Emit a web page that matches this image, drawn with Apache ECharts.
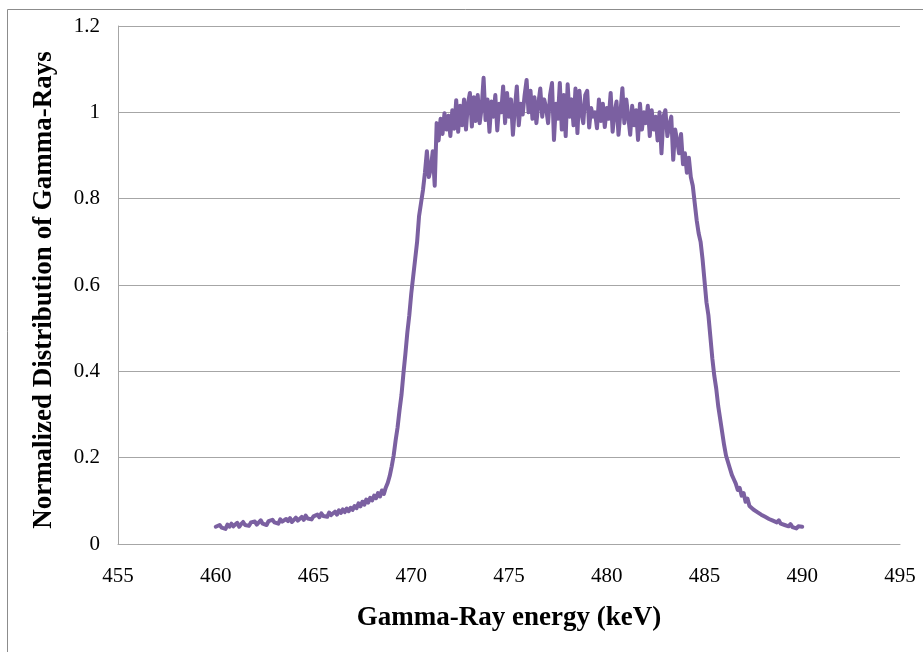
<!DOCTYPE html>
<html>
<head>
<meta charset="utf-8">
<title>Gamma-Ray energy distribution</title>
<script src="https://cdn.jsdelivr.net/npm/echarts@6/dist/echarts.min.js"></script>
<style>
  html, body { margin: 0; padding: 0; background: #ffffff; }
  #chart { width: 923px; height: 652px; }
</style>
</head>
<body>
<div id="chart"></div>
<script>
// Energy grid of the spectrum (keV): 460.0 .. 490.0 in 0.1 keV bins
const energyStart = 460.0;
const energyStep = 0.1;

// Normalized counts, one per 0.1 keV bin, rows of 1 keV
const normalizedCounts = [
  0.040,0.036,0.044,0.038,0.042,0.035,0.045,0.040,0.047,0.041,
  0.043,0.049,0.040,0.046,0.051,0.044,0.048,0.042,0.050,0.046,
  0.052,0.045,0.049,0.055,0.047,0.051,0.044,0.053,0.049,0.056,
  0.050,0.054,0.047,0.057,0.052,0.049,0.058,0.053,0.060,0.051,
  0.055,0.061,0.054,0.058,0.063,0.056,0.066,0.059,0.062,0.057,
  0.064,0.060,0.068,0.062,0.071,0.065,0.069,0.063,0.073,0.067,
  0.070,0.075,0.068,0.078,0.072,0.080,0.074,0.082,0.076,0.084,
  0.079,0.088,0.083,0.094,0.087,0.098,0.091,0.103,0.096,0.107,
  0.101,0.112,0.106,0.118,0.110,0.124,0.116,0.131,0.142,0.158,
  0.180,0.205,0.240,0.270,0.310,0.345,0.395,0.440,0.490,0.530,
  0.580,0.620,0.660,0.700,0.760,0.790,0.820,0.860,0.910,0.850,
  0.870,0.910,0.830,0.975,0.935,0.985,0.950,0.998,0.960,0.992,
  0.945,1.005,0.962,1.028,0.955,1.015,0.970,1.030,0.960,1.020,
  1.045,0.967,1.035,0.980,1.040,0.975,1.010,1.080,0.982,1.030,
  0.955,1.025,0.990,1.040,0.958,1.020,1.000,1.060,0.975,1.045,
  0.990,1.030,0.948,1.010,1.060,0.970,1.020,0.995,1.040,1.075,
  1.000,1.050,0.985,1.035,0.975,1.020,1.055,0.990,1.030,1.010,
  0.975,1.040,1.068,0.936,1.020,0.985,1.068,0.960,1.040,0.945,
  1.065,0.990,1.030,0.970,1.055,0.952,1.050,1.000,0.975,1.040,
  1.050,0.965,1.010,0.990,1.000,0.963,1.030,0.980,1.020,0.966,
  1.010,0.985,1.045,0.955,1.000,1.025,0.948,1.000,1.056,0.975,
  1.030,0.990,0.948,1.015,0.970,1.005,0.936,1.020,0.960,1.000,
  0.975,1.015,0.945,1.005,0.960,0.990,0.935,1.000,0.905,0.990,
  1.005,0.945,0.970,0.990,0.890,0.960,0.935,0.905,0.950,0.880,
  0.905,0.860,0.895,0.850,0.830,0.790,0.750,0.720,0.700,0.660,
  0.610,0.560,0.530,0.480,0.430,0.390,0.360,0.320,0.290,0.260,
  0.230,0.205,0.190,0.175,0.160,0.150,0.140,0.125,0.130,0.112,
  0.118,0.098,0.105,0.088,0.092,0.080,0.084,0.074,0.078,0.068,
  0.072,0.063,0.067,0.058,0.062,0.054,0.058,0.050,0.055,0.047,
  0.051,0.044,0.048,0.041,0.046,0.039,0.043,0.036,0.041,0.038,
  0.040
];

// Axis ranges and labels
const xTicks = [455, 460, 465, 470, 475, 480, 485, 490, 495];
const yTicks = [0, 0.2, 0.4, 0.6, 0.8, 1, 1.2];
const xTitle = 'Gamma-Ray energy (keV)';
const yTitle = 'Normalized Distribution of Gamma-Rays';

const points = normalizedCounts.map((v, i) => [
  +(energyStart + i * energyStep).toFixed(1), v
]);

const serif = '"Liberation Serif", "Times New Roman", serif';
const gridGray = '#a6a6a6';

const chart = echarts.init(document.getElementById('chart'), null, { renderer: 'canvas' });
chart.setOption({
  backgroundColor: '#ffffff',
  animation: false,
  graphic: [{
    type: 'rect',
    left: 5, top: 7,
    shape: { width: 940, height: 670 },
    style: { fill: 'none', stroke: '#8c8c8c', lineWidth: 1 },
    silent: true
  }],
  grid: { left: 118, right: 23, top: 26, bottom: 108 },
  xAxis: {
    type: 'value',
    min: xTicks[0],
    max: xTicks[xTicks.length - 1],
    interval: 5,
    name: xTitle,
    nameLocation: 'middle',
    nameGap: 61,
    nameTextStyle: { fontFamily: serif, fontSize: 27, fontWeight: 'bold', color: '#000' },
    axisLine: { show: true, lineStyle: { color: gridGray, width: 1 } },
    axisTick: { show: false },
    splitLine: { show: false },
    axisLabel: { fontFamily: serif, fontSize: 21, color: '#000', margin: 22 }
  },
  yAxis: {
    type: 'value',
    min: yTicks[0],
    max: yTicks[yTicks.length - 1],
    interval: 0.2,
    name: yTitle,
    nameLocation: 'middle',
    nameGap: 60,
    nameTextStyle: {
      fontFamily: serif, fontSize: 27, fontWeight: 'bold', color: '#000',
      padding: [0, 10, 0, 0]
    },
    axisLine: { show: true, lineStyle: { color: gridGray, width: 1 } },
    axisTick: { show: false },
    splitLine: { show: true, lineStyle: { color: gridGray, width: 1 } },
    axisLabel: {
      fontFamily: serif, fontSize: 21, color: '#000', margin: 18,
      formatter: v => String(+v.toFixed(1))
    }
  },
  series: [{
    type: 'line',
    data: points,
    showSymbol: false,
    smooth: false,
    lineStyle: { color: '#7b60a1', width: 4, join: 'round', cap: 'round' },
    itemStyle: { color: '#7b60a1' }
  }]
});
</script>
</body>
</html>
